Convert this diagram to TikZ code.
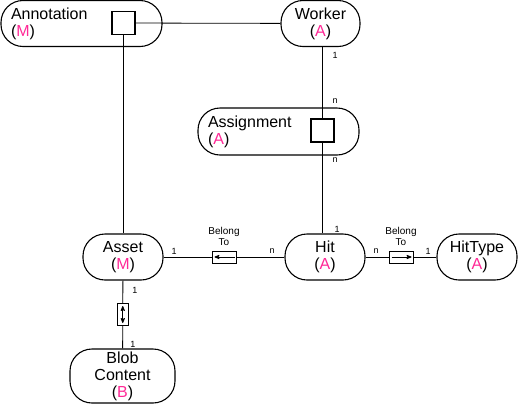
\documentclass[tikz,border=0pt]{standalone}
\usepackage{fontspec}
\setmainfont{Liberation Sans}
\usepackage{tikz}
\usetikzlibrary{arrows,positioning,shapes}
\definecolor{mpink}{RGB}{255,40,150}
\tikzset{>=stealth',x=1pt,y=-1pt}
\tikzset{
    entity/.style={draw,line width=1.1pt,rounded corners=22pt,minimum height=46pt,
        font=\fontsize{16}{17}\selectfont,align=center,inner sep=0pt},
    entleft/.style={entity,align=left,text width=141pt,inner xsep=10pt},
    keybox/.style={draw,line width=1.1pt,fill=white,minimum size=23pt,inner sep=0pt},
    relbox/.style={draw,line width=1pt,fill=white,minimum width=24pt,minimum height=12pt,inner sep=0pt},
    card/.style={font=\fontsize{9}{10}\selectfont,inner sep=0pt},
    reltext/.style={font=\fontsize{10}{11}\selectfont,align=center,inner sep=0pt},
    link/.style={line width=0.8pt}
}
\newcommand{\kind}[1]{(\textcolor{mpink}{#1})}

\begin{document}
\begin{tikzpicture}
    \useasboundingbox (0,0) rectangle (519,405);
    % entities
    \node[entleft] (ann) at (81.5,23.5) {Annotation\\\kind{M}};
    \node[keybox] (annkey) at (123.5,23) {};
    \node[entity,minimum width=79pt] (wrk) at (320.5,23.5) {Worker\\\kind{A}};
    \node[entleft,minimum height=47pt] (asg) at (278.5,131.5) {Assignment\\\kind{A}};
    \node[keybox] (asgkey) at (322.5,130.5) {};
    \node[entity,minimum width=80pt] (asset) at (123,257) {Asset\\\kind{M}};
    \node[entity,minimum width=80pt] (hit) at (325,257) {Hit\\\kind{A}};
    \node[entity,minimum width=80pt] (htype) at (477,257) {HitType\\\kind{A}};
    \node[entity,minimum width=105pt,minimum height=54pt] (blob) at (122.5,376) {Blob\\Content\\\kind{B}};

    % links
    \draw[link] (annkey) -- (wrk);
    \draw[link] (annkey.south) -- (annkey.south |- asset.north);
    \draw[link] (asgkey.north) -- (asgkey.north |- wrk.south);
    \draw[link] (asgkey.south) -- (asgkey.south |- hit.north);
    \draw[link] (asset) -- node[relbox] (bt1) {} (hit);
    \draw[link] (hit) -- node[relbox] (bt2) {} (htype);
    \draw[link] (asset) -- node[relbox,minimum width=11pt,minimum height=22pt] (bb) {} (blob);

    % relation marks
    \draw[->,link] ([xshift=-2pt]bt1.east) -- ([xshift=3pt]bt1.west);
    \draw[->,link] ([xshift=3pt]bt2.west) -- ([xshift=-2pt]bt2.east);
    \draw[<->,link] ([yshift=-3pt]bb.north) -- ([yshift=3pt]bb.south);
    \node[reltext,above=5pt of bt1] (bt1txt) {Belong\\To};
    \node[reltext,above=5pt of bt2] (bt2txt) {Belong\\To};

    % cardinalities
    \node[card] (c1) at (335,55) {1};
    \node[card] (c2) at (335,101) {n};
    \node[card] (c3) at (335,160) {n};
    \node[card] (c4) at (337,229) {1};
    \node[card] (c5) at (174,251) {1};
    \node[card] (c6) at (272,251) {n};
    \node[card] (c7) at (376,251) {n};
    \node[card] (c8) at (428,251) {1};
    \node[card] (c9) at (135,290) {1};
    \node[card] (c10) at (133,344) {1};
\end{tikzpicture}
\end{document}
